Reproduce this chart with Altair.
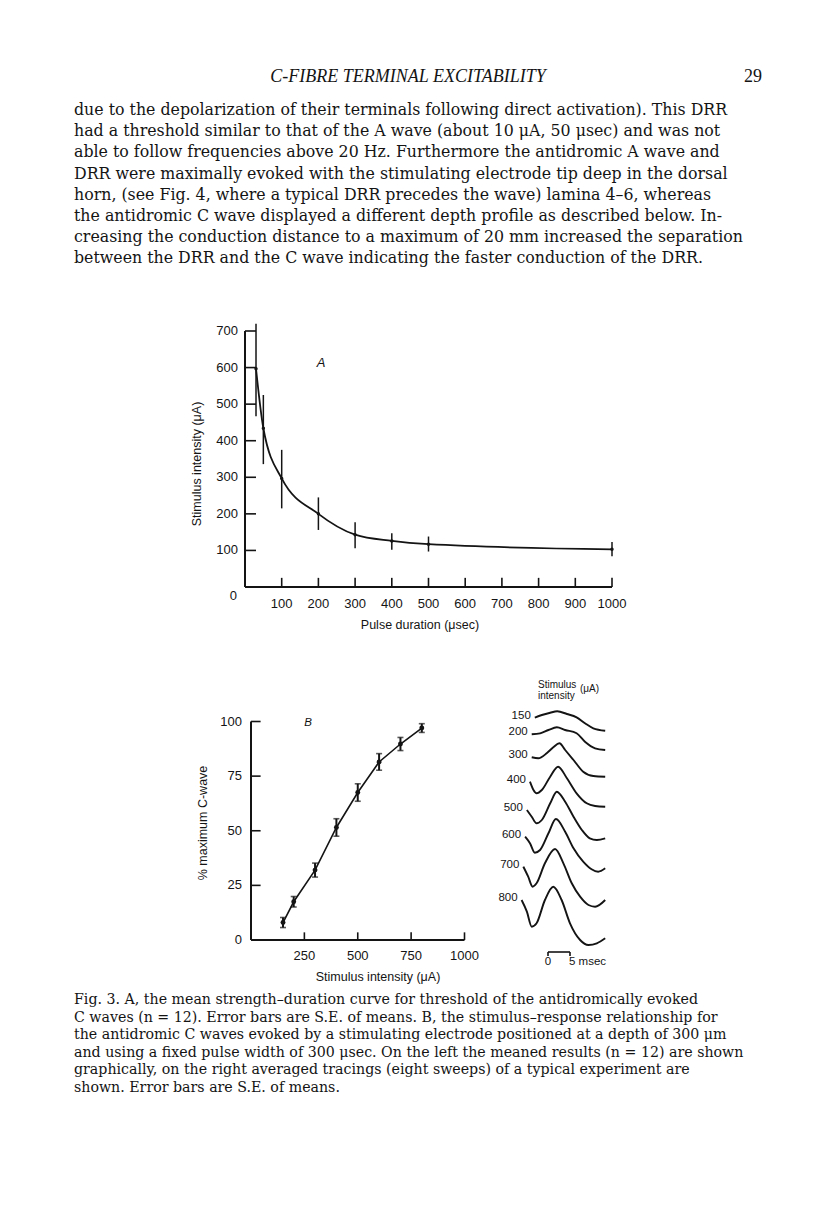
import altair as alt
import pandas as pd

# ---------------- page text ----------------
HEADER = "C-FIBRE TERMINAL EXCITABILITY"
PAGE_NO = "29"
BODY = [
    "due to the depolarization of their terminals following direct activation). This DRR",
    "had a threshold similar to that of the A wave (about 10 \u03bcA, 50 \u03bcsec) and was not",
    "able to follow frequencies above 20 Hz. Furthermore the antidromic A wave and",
    "DRR were maximally evoked with the stimulating electrode tip deep in the dorsal",
    "horn, (see Fig. 4, where a typical DRR precedes the wave) lamina 4\u20136, whereas",
    "the antidromic C wave displayed a different depth profile as described below. In-",
    "creasing the conduction distance to a maximum of 20 mm increased the separation",
    "between the DRR and the C wave indicating the faster conduction of the DRR.",
]
CAPTION = [
    "Fig. 3. A, the mean strength\u2013duration curve for threshold of the antidromically evoked",
    "C waves (n = 12). Error bars are S.E. of means. B, the stimulus\u2013response relationship for",
    "the antidromic C waves evoked by a stimulating electrode positioned at a depth of 300 \u03bcm",
    "and using a fixed pulse width of 300 \u03bcsec. On the left the meaned results (n = 12) are shown",
    "graphically, on the right averaged tracings (eight sweeps) of a typical experiment are",
    "shown. Error bars are S.E. of means.",
]

# ---------------- panel A: strength-duration ----------------
A_DURATION = [30, 50, 100, 200, 300, 400, 500, 1000]
A_MEAN = [597, 434, 297, 200, 143, 126, 117, 103]
A_LOW = [467, 336, 215, 156, 106, 102, 97, 84]
A_HIGH = [720, 525, 375, 245, 177, 147, 138, 123]
A_XTICKS = [100, 200, 300, 400, 500, 600, 700, 800, 900, 1000]
A_YTICKS = [100, 200, 300, 400, 500, 600, 700]

# ---------------- panel B: stimulus-response ----------------
B_INTENSITY = [150, 200, 300, 400, 500, 600, 700, 800]
B_MEAN = [8.0, 17.5, 32.0, 51.5, 67.5, 81.5, 89.7, 97.0]
B_SE = [2.3, 2.4, 3.2, 4.0, 4.0, 3.8, 3.0, 2.0]
B_XTICKS = [250, 500, 750, 1000]
B_YTICKS = [0, 25, 50, 75, 100]

# ---------------- averaged tracings ----------------
TRACE_LABELS = ["150", "200", "300", "400", "500", "600", "700", "800"]
TRACE_OFFSET = [717.7, 734.3, 757.3, 781.7, 810.0, 836.7, 866.7, 900.0]
TRACE_T = [
    [-3.0, -1.4, 0.5, 2.1, 4.3, 6.5, 8.4, 10.3, 13.0],
    [-3.7, -1.8, 0.1, 2.0, 3.9, 6.5, 8.4, 10.7, 13.0],
    [-3.7, -2.2, -0.3, 1.2, 2.6, 3.9, 5.8, 8.0, 10.3, 13.0],
    [-4.1, -3.3, -2.6, -1.4, 0.5, 2.3, 4.3, 6.5, 8.8, 10.7, 13.0],
    [-4.8, -3.7, -2.6, -1.4, 0.5, 2.0, 3.9, 5.8, 7.7, 9.5, 11.1, 13.0],
    [-5.2, -4.1, -3.0, -1.8, 0.1, 1.8, 3.9, 5.8, 8.0, 9.9, 11.4, 13.0],
    [-5.6, -4.5, -3.5, -2.6, -0.7, 1.6, 3.5, 5.4, 7.3, 9.2, 10.7, 13.0],
    [-6.0, -4.8, -3.7, -2.6, -0.7, 1.2, 3.1, 5.0, 7.3, 9.2, 11.1, 13.0],
]
TRACE_V = [
    [0, 2.7, 5.0, 6.4, 3.7, 0.4, -5.6, -10.6, -13.0],
    [0, 1.0, 4.3, 7.0, 4.3, 1.0, -7.4, -14.0, -15.7],
    [0, -1.0, 4.0, 10.0, 14.0, 7.3, -2.7, -14.4, -18.7, -19.4],
    [0, -8.3, -11.6, -8.3, 5.0, 15.0, 3.4, -11.6, -21.6, -24.3, -25.0],
    [0, -6.7, -13.3, -10.0, 6.7, 18.3, 8.3, -6.7, -20.0, -28.3, -30.0, -28.3],
    [0, -6.6, -16.0, -13.3, 3.4, 17.7, 5.0, -11.6, -25.0, -32.6, -35.0, -31.6],
    [0, -10.0, -20.0, -16.6, 3.4, 17.7, 3.4, -16.6, -30.0, -38.3, -40.0, -33.3],
    [0, -11.7, -26.7, -23.3, 0, 13.3, 0, -23.3, -40.0, -45.0, -43.3, -38.3],
]
SCALE_BAR_MS = [0, 5]

INK = "#141414"
SANS = "Liberation Sans"
SERIF = "DejaVu Serif"

# ---------------- scales ----------------
A_X = alt.Scale(domain=[0, 1000], range=[237, 604], nice=False, zero=False)
A_Y = alt.Scale(domain=[0, 700], range=[579, 323], nice=False, zero=False)
B_X = alt.Scale(domain=[0, 1000], range=[243, 456.5], nice=False, zero=False)
B_Y = alt.Scale(domain=[0, 100], range=[932, 713.5], nice=False, zero=False)
T_X = alt.Scale(domain=[-6, 13], range=[513.6, 597.2], nice=False, zero=False)
T_Y = alt.Scale(domain=[680, 980], range=[672, 972], nice=False, zero=False)

ONE = pd.DataFrame({"k": [0]})


def block(lines, x, y, size, font=SERIF, lh=None, align="left", style="normal",
          angle=0, baseline="alphabetic", weight="normal"):
    kw = dict(text=lines, font=font, fontSize=size, align=align, fontStyle=style,
              baseline=baseline, color=INK, fontWeight=weight)
    if lh is not None:
        kw["lineHeight"] = lh
    if angle:
        kw["angle"] = angle
    return alt.Chart(ONE).mark_text(**kw).encode(x=alt.value(x), y=alt.value(y))


layers = []

# page text
layers.append(block(HEADER, 400, 74, 18, font="Liberation Serif", style="italic", align="center"))
layers.append(block(PAGE_NO, 754, 74, 18, font="Liberation Serif", align="right"))
layers.append(block(BODY, 66, 107, 15.8, lh=21.2))
layers.append(block(CAPTION, 66, 996, 14.2, lh=17.6))

# ---------------- panel A ----------------
dfA = pd.DataFrame({"d": A_DURATION, "m": A_MEAN, "lo": A_LOW, "hi": A_HIGH})
axA = pd.DataFrame({"x": [0, 0], "x2": [0, 1000], "y": [0, 0], "y2": [700, 0]})
layers.append(alt.Chart(axA).mark_rule(color=INK, strokeWidth=2).encode(
    x=alt.X("x:Q", scale=A_X, axis=None), x2="x2:Q",
    y=alt.Y("y:Q", scale=A_Y, axis=None), y2="y2:Q"))
txA = pd.DataFrame({"v": A_XTICKS, "a": 0, "b": 25})
layers.append(alt.Chart(txA).mark_rule(color=INK, strokeWidth=1.6).encode(
    x=alt.X("v:Q", scale=A_X, axis=None),
    y=alt.Y("a:Q", scale=A_Y, axis=None), y2="b:Q"))
tyA = pd.DataFrame({"v": A_YTICKS, "a": 0, "b": 30})
layers.append(alt.Chart(tyA).mark_rule(color=INK, strokeWidth=1.6).encode(
    y=alt.Y("v:Q", scale=A_Y, axis=None),
    x=alt.X("a:Q", scale=A_X, axis=None), x2="b:Q"))
layers.append(alt.Chart(pd.DataFrame({"v": A_XTICKS})).mark_text(
    font=SANS, fontSize=13, color=INK, baseline="middle").encode(
    x=alt.X("v:Q", scale=A_X, axis=None), y=alt.value(596), text="v:Q"))
layers.append(alt.Chart(pd.DataFrame({"v": A_YTICKS})).mark_text(
    font=SANS, fontSize=13, color=INK, baseline="middle", align="right").encode(
    y=alt.Y("v:Q", scale=A_Y, axis=None), x=alt.value(230), text="v:Q"))
layers.append(alt.Chart(pd.DataFrame({"v": [0]})).mark_text(
    font=SANS, fontSize=13, color=INK, baseline="middle", align="right", dy=9).encode(
    y=alt.Y("v:Q", scale=A_Y, axis=None), x=alt.value(229), text="v:Q"))
layers.append(alt.Chart(dfA).mark_rule(color=INK, strokeWidth=1.5).encode(
    x=alt.X("d:Q", scale=A_X, axis=None),
    y=alt.Y("lo:Q", scale=A_Y, axis=None), y2="hi:Q"))
layers.append(alt.Chart(dfA).mark_line(color=INK, strokeWidth=1.8, interpolate="monotone").encode(
    x=alt.X("d:Q", scale=A_X, axis=None), y=alt.Y("m:Q", scale=A_Y, axis=None)))
layers.append(alt.Chart(dfA).mark_circle(color=INK, size=12, opacity=1).encode(
    x=alt.X("d:Q", scale=A_X, axis=None), y=alt.Y("m:Q", scale=A_Y, axis=None)))
layers.append(block("Pulse duration (\u03bcsec)", 412, 617, 12.5, font=SANS, align="center", baseline="middle"))
layers.append(block("Stimulus intensity (\u03bcA)", 189, 456, 12.5, font=SANS, align="center",
                    baseline="middle", angle=270))
layers.append(block("A", 313, 355, 13, font=SANS, style="italic", align="center", baseline="middle"))

# ---------------- panel B ----------------
dfB = pd.DataFrame({"i": B_INTENSITY, "m": B_MEAN, "se": B_SE})
dfB["lo"] = dfB["m"] - dfB["se"]
dfB["hi"] = dfB["m"] + dfB["se"]
axB = pd.DataFrame({"x": [0, 0], "x2": [0, 1000], "y": [0, 0], "y2": [100, 0]})
layers.append(alt.Chart(axB).mark_rule(color=INK, strokeWidth=2).encode(
    x=alt.X("x:Q", scale=B_X, axis=None), x2="x2:Q",
    y=alt.Y("y:Q", scale=B_Y, axis=None), y2="y2:Q"))
txB = pd.DataFrame({"v": B_XTICKS, "a": 0, "b": 3.5})
layers.append(alt.Chart(txB).mark_rule(color=INK, strokeWidth=1.6).encode(
    x=alt.X("v:Q", scale=B_X, axis=None),
    y=alt.Y("a:Q", scale=B_Y, axis=None), y2="b:Q"))
tyB = pd.DataFrame({"v": B_YTICKS[1:], "a": 0, "b": 45})
layers.append(alt.Chart(tyB).mark_rule(color=INK, strokeWidth=1.6).encode(
    y=alt.Y("v:Q", scale=B_Y, axis=None),
    x=alt.X("a:Q", scale=B_X, axis=None), x2="b:Q"))
layers.append(alt.Chart(pd.DataFrame({"v": B_XTICKS})).mark_text(
    font=SANS, fontSize=13, color=INK, baseline="middle").encode(
    x=alt.X("v:Q", scale=B_X, axis=None), y=alt.value(948), text="v:Q"))
layers.append(alt.Chart(pd.DataFrame({"v": B_YTICKS})).mark_text(
    font=SANS, fontSize=13, color=INK, baseline="middle", align="right").encode(
    y=alt.Y("v:Q", scale=B_Y, axis=None), x=alt.value(234), text="v:Q"))
layers.append(alt.Chart(dfB).mark_line(color=INK, strokeWidth=1.6).encode(
    x=alt.X("i:Q", scale=B_X, axis=None), y=alt.Y("m:Q", scale=B_Y, axis=None)))
layers.append(alt.Chart(dfB).mark_rule(color=INK, strokeWidth=2).encode(
    x=alt.X("i:Q", scale=B_X, axis=None),
    y=alt.Y("lo:Q", scale=B_Y, axis=None), y2="hi:Q"))
for col in ["lo", "hi"]:
    layers.append(alt.Chart(dfB).mark_tick(color=INK, thickness=1.6, size=6, orient="horizontal").encode(
        x=alt.X("i:Q", scale=B_X, axis=None), y=alt.Y(f"{col}:Q", scale=B_Y, axis=None)))
layers.append(alt.Chart(dfB).mark_circle(color=INK, size=24, opacity=1).encode(
    x=alt.X("i:Q", scale=B_X, axis=None), y=alt.Y("m:Q", scale=B_Y, axis=None)))
layers.append(block("Stimulus intensity (\u03bcA)", 370, 969, 12.5, font=SANS, align="center", baseline="middle"))
layers.append(block("% maximum C-wave", 195, 815, 12.5, font=SANS, align="center",
                    baseline="middle", angle=270))
layers.append(block("B", 300, 715, 11.5, font=SANS, style="italic", align="center", baseline="middle"))

# ---------------- tracings ----------------
rows = []
for lab, off, ts, vs in zip(TRACE_LABELS, TRACE_OFFSET, TRACE_T, TRACE_V):
    for k, (t, v) in enumerate(zip(ts, vs)):
        rows.append({"lab": lab, "t": t, "y": off - v, "k": k})
dfT = pd.DataFrame(rows)
layers.append(alt.Chart(dfT).mark_line(color=INK, strokeWidth=1.9, interpolate="monotone").encode(
    x=alt.X("t:Q", scale=T_X, axis=None), y=alt.Y("y:Q", scale=T_Y, axis=None),
    detail="lab:N", order="k:Q"))
dfL = pd.DataFrame({"lab": TRACE_LABELS, "t": [ts[0] for ts in TRACE_T], "y": TRACE_OFFSET})
layers.append(alt.Chart(dfL).mark_text(font=SANS, fontSize=11.5, color=INK, align="right",
                                       baseline="middle", dx=-4, dy=-2).encode(
    x=alt.X("t:Q", scale=T_X, axis=None), y=alt.Y("y:Q", scale=T_Y, axis=None), text="lab:N"))
layers.append(block("Stimulus", 530, 677, 10, font=SANS, baseline="middle"))
layers.append(block("intensity", 530, 688, 10, font=SANS, baseline="middle"))
layers.append(block("(\u03bcA)", 572, 681, 10, font=SANS, baseline="middle"))

dfS = pd.DataFrame({"a": [SCALE_BAR_MS[0]], "b": [SCALE_BAR_MS[1]], "y": [952]})
layers.append(alt.Chart(dfS).mark_rule(color=INK, strokeWidth=1.6).encode(
    x=alt.X("a:Q", scale=T_X, axis=None), x2="b:Q", y=alt.Y("y:Q", scale=T_Y, axis=None)))
dfS2 = pd.DataFrame({"t": SCALE_BAR_MS, "y": [952, 952], "y2": [956, 956]})
layers.append(alt.Chart(dfS2).mark_rule(color=INK, strokeWidth=1.6).encode(
    x=alt.X("t:Q", scale=T_X, axis=None), y=alt.Y("y:Q", scale=T_Y, axis=None), y2="y2:Q"))
dfS3 = pd.DataFrame({"t": SCALE_BAR_MS, "txt": ["0", "5 msec"]})
layers.append(alt.Chart(dfS3.iloc[[0]]).mark_text(font=SANS, fontSize=11.5, color=INK,
                                                  baseline="middle", align="center").encode(
    x=alt.X("t:Q", scale=T_X, axis=None), y=alt.value(954), text="txt:N"))
layers.append(alt.Chart(dfS3.iloc[[1]]).mark_text(font=SANS, fontSize=11.5, color=INK,
                                                  baseline="middle", align="left", dx=-1).encode(
    x=alt.X("t:Q", scale=T_X, axis=None), y=alt.value(954), text="txt:N"))

chart = alt.layer(*layers).resolve_scale(x="independent", y="independent").properties(
    width=800, height=1190, padding=0, background="white"
).configure_view(stroke=None)

chart.save("out.html", embed_options={"renderer": "svg", "actions": False})
